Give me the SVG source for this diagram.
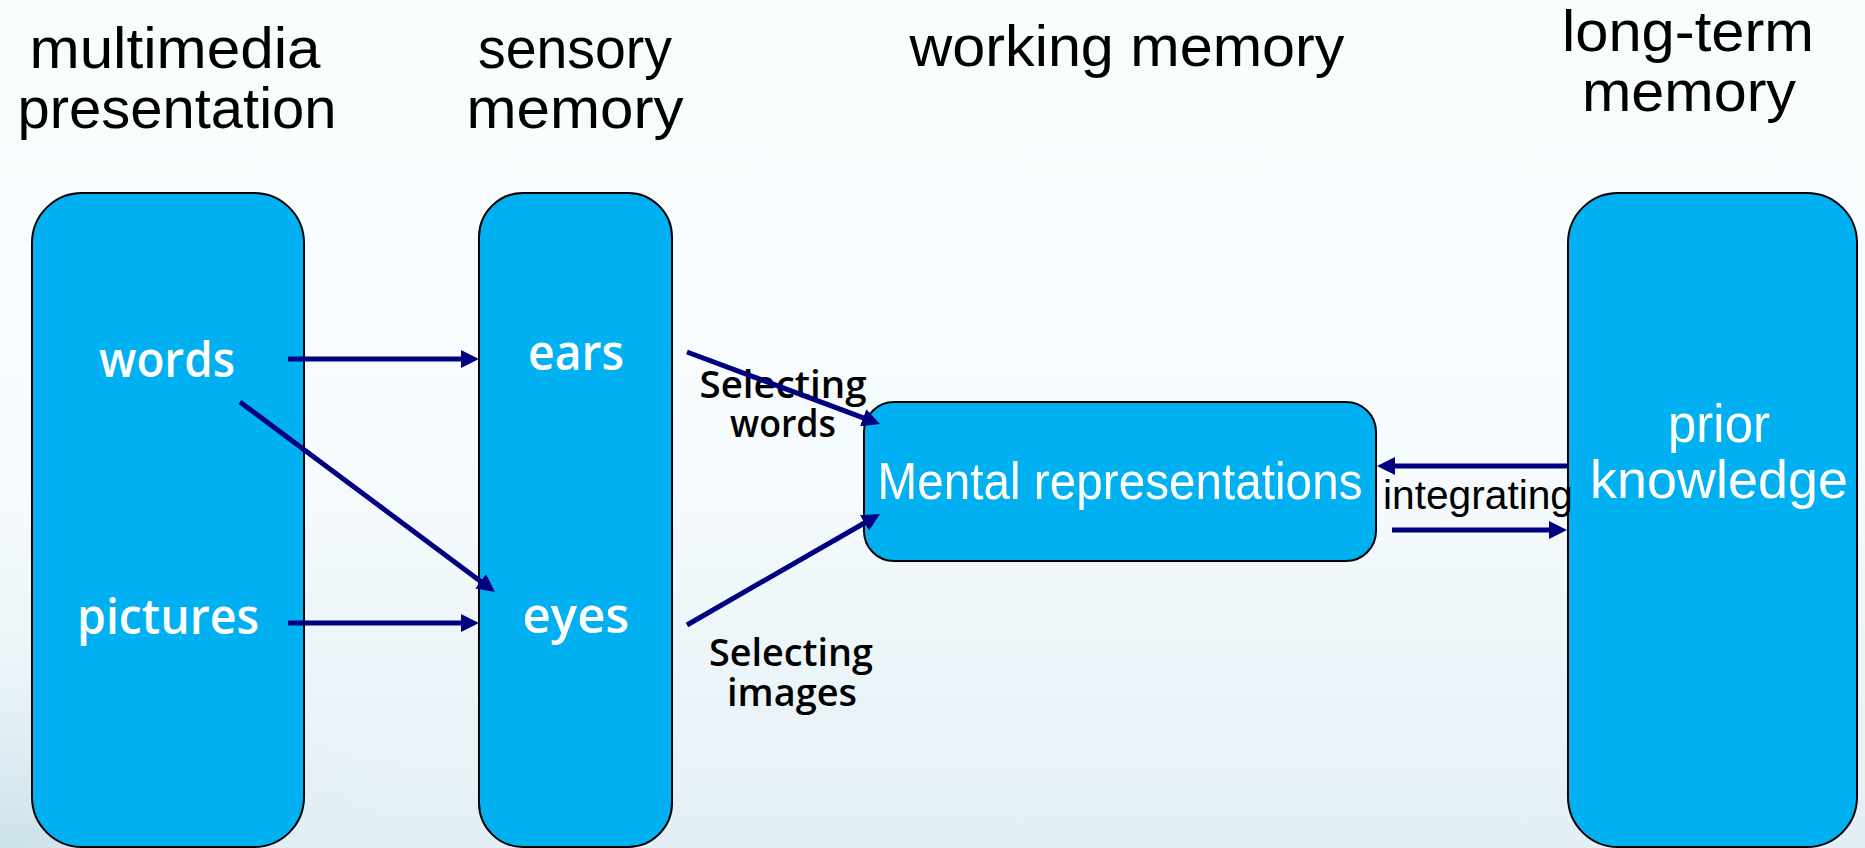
<svg xmlns="http://www.w3.org/2000/svg" width="1865" height="848" viewBox="0 0 1865 848">
  <defs>
    <linearGradient id="bg" x1="0" y1="0" x2="0" y2="1">
      <stop offset="0" stop-color="#f9fdfe"/>
      <stop offset="0.55" stop-color="#f6fbfd"/>
      <stop offset="1" stop-color="#e3eff5"/>
    </linearGradient>
    <radialGradient id="bl" cx="0" cy="1" r="0.5" gradientUnits="objectBoundingBox">
      <stop offset="0" stop-color="#c9dfe9" stop-opacity="0.9"/>
      <stop offset="1" stop-color="#e6f1f6" stop-opacity="0"/>
    </radialGradient>
    <marker id="ah" markerUnits="userSpaceOnUse" markerWidth="18" markerHeight="18" viewBox="0 0 18 18" refX="1" refY="9" orient="auto">
      <path d="M0,0 L18,9 L0,18 z" fill="#000080"/>
    </marker>
    <style>
      .box { fill: #00b0f0; stroke: #000000; stroke-width: 2; }
      .hdr { font-family: "Liberation Sans", Arial, sans-serif; font-size: 58px; fill: #000000; text-anchor: middle; }
      .lbl { font-family: "Open Sans", "DejaVu Sans", sans-serif; font-size: 48px; font-weight: 600; fill: #ffffff; text-anchor: middle; }
      .wl { font-family: "Liberation Sans", Arial, sans-serif; fill: #ffffff; text-anchor: middle; }
      .sel { font-family: "Open Sans", "DejaVu Sans", sans-serif; font-size: 38px; font-weight: 600; fill: #000000; text-anchor: middle; }
      .int { font-family: "Liberation Sans", Arial, sans-serif; font-size: 40px; fill: #000000; text-anchor: middle; }
      .conn { stroke: #000080; stroke-width: 5; fill: none; marker-end: url(#ah); }
    </style>
  </defs>

  <rect x="0" y="0" width="1865" height="848" fill="url(#bg)"/>
  <rect x="0" y="400" width="900" height="448" fill="url(#bl)"/>

  <g id="headers">
    <text class="hdr" x="175" y="68" textLength="291" lengthAdjust="spacingAndGlyphs">multimedia</text>
    <text class="hdr" x="177" y="128" textLength="319" lengthAdjust="spacingAndGlyphs">presentation</text>
    <text class="hdr" x="575" y="68" textLength="194" lengthAdjust="spacingAndGlyphs">sensory</text>
    <text class="hdr" x="575" y="128" textLength="217" lengthAdjust="spacingAndGlyphs">memory</text>
    <text class="hdr" x="1127" y="66" textLength="435" lengthAdjust="spacingAndGlyphs">working memory</text>
    <text class="hdr" x="1688" y="51" textLength="252" lengthAdjust="spacingAndGlyphs">long-term</text>
    <text class="hdr" x="1689" y="111" textLength="214" lengthAdjust="spacingAndGlyphs">memory</text>
  </g>

  <g id="multimedia">
    <rect class="box" x="32" y="193" width="272" height="654" rx="50" ry="50"/>
    <text class="lbl" x="167" y="377" textLength="136" lengthAdjust="spacingAndGlyphs">words</text>
    <text class="lbl" x="168" y="634" textLength="182" lengthAdjust="spacingAndGlyphs">pictures</text>
  </g>

  <g id="sensory">
    <rect class="box" x="479" y="193" width="193" height="654" rx="44" ry="44"/>
    <text class="lbl" x="576" y="370" textLength="96" lengthAdjust="spacingAndGlyphs">ears</text>
    <text class="lbl" x="576" y="633" textLength="107" lengthAdjust="spacingAndGlyphs">eyes</text>
  </g>

  <g id="working">
    <rect class="box" x="864" y="402" width="512" height="159" rx="30" ry="30"/>
    <text class="wl" x="1120" y="499" font-size="52" textLength="485" lengthAdjust="spacingAndGlyphs">Mental representations</text>
  </g>

  <g id="longterm">
    <rect class="box" x="1568" y="193" width="289" height="654" rx="50" ry="50"/>
    <text class="wl" x="1719" y="442" font-size="54" textLength="102" lengthAdjust="spacingAndGlyphs">prior</text>
    <text class="wl" x="1719" y="498" font-size="54" textLength="258" lengthAdjust="spacingAndGlyphs">knowledge</text>
  </g>

  <g id="connector-labels">
    <text class="sel" x="783" y="398" textLength="167" lengthAdjust="spacingAndGlyphs">Selecting</text>
    <text class="sel" x="783" y="437" textLength="106" lengthAdjust="spacingAndGlyphs">words</text>
    <text class="sel" x="791" y="666" textLength="164" lengthAdjust="spacingAndGlyphs">Selecting</text>
    <text class="sel" x="792" y="706" textLength="130" lengthAdjust="spacingAndGlyphs">images</text>
    <text class="int" x="1478" y="509" textLength="190" lengthAdjust="spacingAndGlyphs">integrating</text>
  </g>

  <g id="connectors">
    <line class="conn" x1="288" y1="359" x2="462" y2="359"/>
    <line class="conn" x1="288" y1="623" x2="462" y2="623"/>
    <line class="conn" x1="240" y1="402" x2="481.4" y2="581.9"/>
    <line class="conn" x1="687" y1="352" x2="864.1" y2="418.1"/>
    <line class="conn" x1="687" y1="625" x2="865.3" y2="522.5"/>
    <line class="conn" x1="1567" y1="466" x2="1394" y2="466"/>
    <line class="conn" x1="1392" y1="530" x2="1550" y2="530"/>
  </g>
</svg>
